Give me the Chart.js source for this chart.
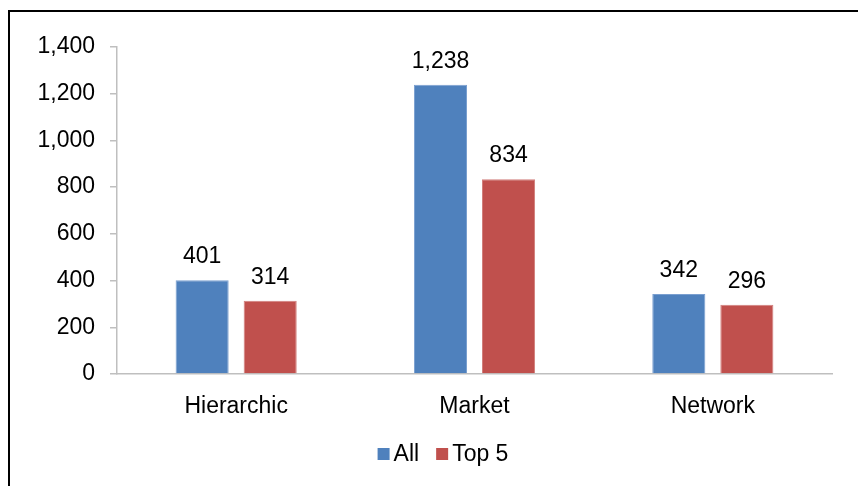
<!DOCTYPE html>
<html>
<head>
<meta charset="utf-8">
<script src="https://cdn.jsdelivr.net/npm/chart.js@4/dist/chart.umd.min.js"></script>
<style>
  html, body { margin: 0; padding: 0; background: #fff; }
  #wrap { position: relative; width: 858px; height: 486px; }
</style>
</head>
<body>
<div id="wrap"><canvas id="c" width="858" height="486"></canvas></div>
<script>
const categories = ["Hierarchic", "Market", "Network"];
const seriesNames = ["All", "Top 5"];
const allValues = [401, 1238, 342];
const top5Values = [314, 834, 296];
const yTicks = [0, 200, 400, 600, 800, 1000, 1200, 1400];

const FONT = "'Liberation Sans', Arial, Helvetica, sans-serif";
const FS = 23;
const fmt = v => Number(v).toLocaleString('en-US');

const frame = {
  id: 'frame',
  beforeDraw(chart) {
    const ctx = chart.ctx;
    ctx.save();
    ctx.fillStyle = '#fff';
    ctx.fillRect(0, 0, chart.width, chart.height);
    ctx.strokeStyle = '#000';
    ctx.lineWidth = 2;
    ctx.beginPath();
    ctx.moveTo(9, chart.height + 2);
    ctx.lineTo(9, 11);
    ctx.lineTo(chart.width + 2, 11);
    ctx.stroke();
    ctx.restore();
  }
};

const valueLabels = {
  id: 'valueLabels',
  afterDatasetsDraw(chart) {
    const ctx = chart.ctx;
    ctx.save();
    ctx.font = FS + 'px ' + FONT;
    ctx.fillStyle = '#000';
    ctx.textAlign = 'center';
    ctx.textBaseline = 'alphabetic';
    chart.data.datasets.forEach((ds, i) => {
      const meta = chart.getDatasetMeta(i);
      meta.data.forEach((bar, j) => {
        ctx.fillText(fmt(ds.data[j]), bar.x, bar.y - 17);
      });
    });
    ctx.restore();
  }
};

const customLegend = {
  id: 'customLegend',
  afterDraw(chart) {
    const ctx = chart.ctx;
    ctx.save();
    ctx.font = FS + 'px ' + FONT;
    ctx.textBaseline = 'middle';
    ctx.textAlign = 'left';
    const box = 12, gapText = 4, gapItem = 17;
    const items = chart.data.datasets.map(ds => ({ text: ds.label, color: ds.backgroundColor, w: ctx.measureText(ds.label).width }));
    let total = 0;
    items.forEach((it, i) => { total += box + gapText + it.w + (i ? gapItem : 0); });
    let x = 443 - total / 2;
    const y = 454;
    items.forEach((it, i) => {
      if (i) x += gapItem;
      ctx.fillStyle = it.color;
      ctx.fillRect(x, y - box / 2, box, box);
      x += box + gapText;
      ctx.fillStyle = '#000';
      ctx.fillText(it.text, x, y + 1);
      x += it.w;
    });
    ctx.restore();
  }
};

new Chart(document.getElementById('c'), {
  type: 'bar',
  data: {
    labels: categories,
    datasets: [
      { label: seriesNames[0], data: allValues, backgroundColor: '#4F81BD', borderColor: '#7A9FD0', borderWidth: 1, categoryPercentage: 0.571, barPercentage: 0.78 },
      { label: seriesNames[1], data: top5Values, backgroundColor: '#C0504D', borderColor: '#D27F7C', borderWidth: 1, categoryPercentage: 0.571, barPercentage: 0.78 }
    ]
  },
  options: {
    responsive: false,
    animation: false,
    devicePixelRatio: 1,
    layout: { padding: { top: 47, right: 26, bottom: 52, left: 0 } },
    plugins: {
      legend: { display: false },
      tooltip: { enabled: false }
    },
    scales: {
      x: {
        grid: { display: false },
        border: { display: true, color: '#BFBFBF', width: 1.5 },
        ticks: { color: '#000', font: { family: FONT, size: FS }, padding: 11 },
        afterFit(scale) { scale.height = 60; }
      },
      y: {
        min: 0, max: 1400,
        afterBuildTicks(scale) { scale.ticks = yTicks.map(v => ({ value: v })); },
        grid: { drawOnChartArea: false, drawTicks: true, tickLength: 7, color: '#BFBFBF', lineWidth: 1.5 },
        border: { display: true, color: '#BFBFBF', width: 1.5 },
        ticks: { color: '#000', font: { family: FONT, size: FS }, padding: 15, callback: v => fmt(v) },
        afterFit(scale) { scale.width = 117; }
      }
    }
  },
  plugins: [frame, valueLabels, customLegend]
});
</script>
</body>
</html>
